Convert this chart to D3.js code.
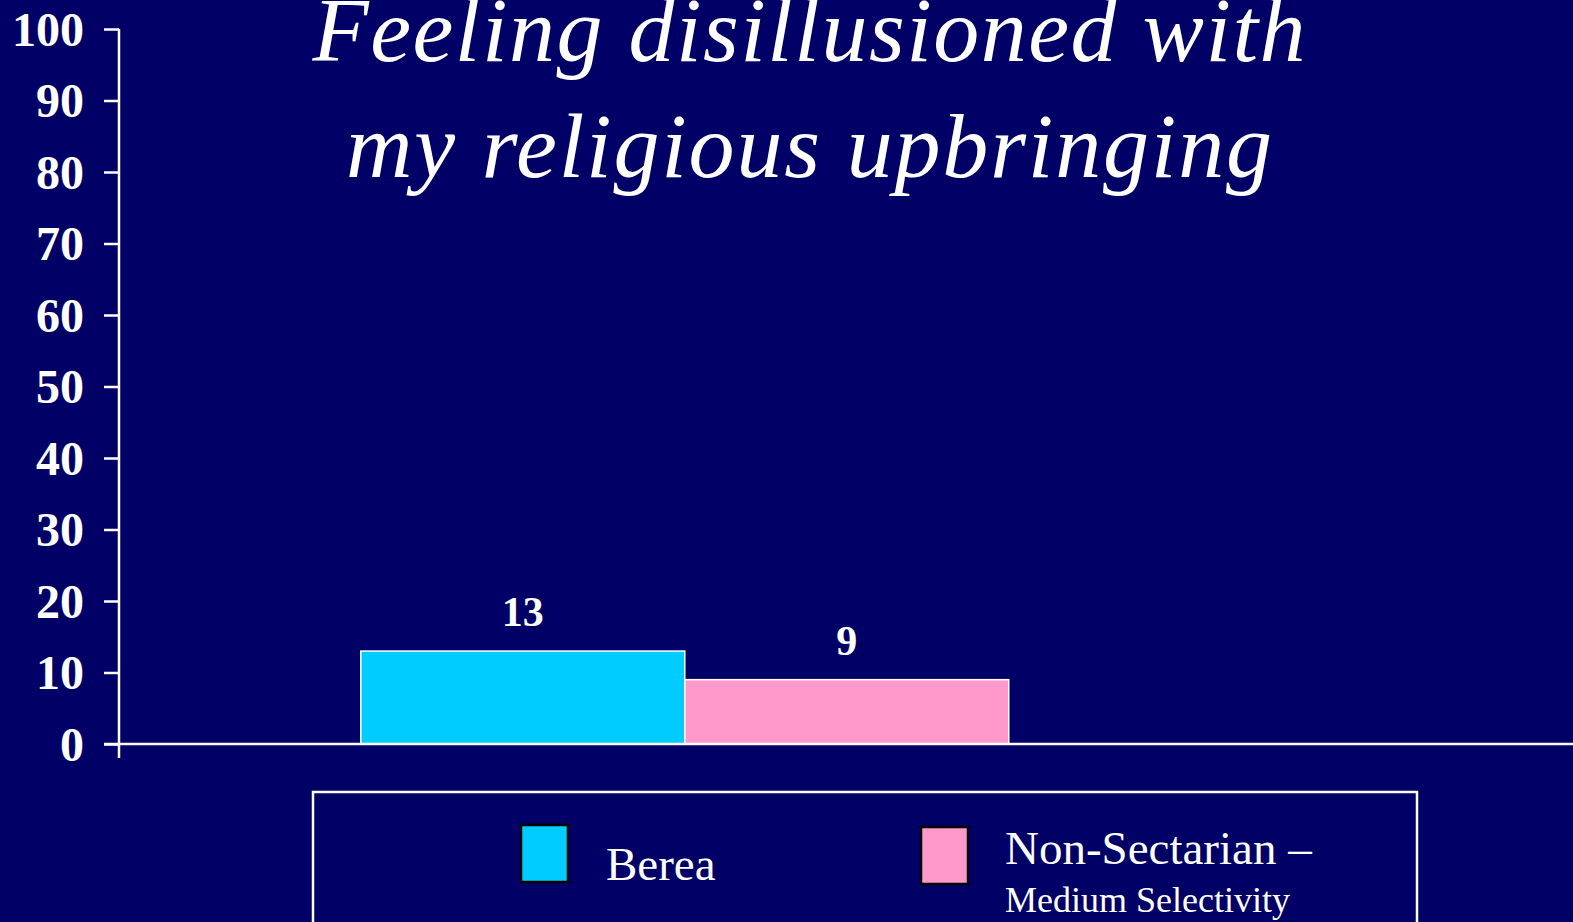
<!DOCTYPE html>
<html><head><meta charset="utf-8">
<script src="https://cdn.jsdelivr.net/npm/d3@7"></script>
<style>
html,body{margin:0;padding:0;background:#000066;overflow:hidden;}
svg{display:block;}
</style></head>
<body>
<svg id="chart" width="1573" height="922"></svg>
<script>
// ---- data ----
const categories = ["Feeling disillusioned with my religious upbringing"];
const seriesNames = ["Berea", "Non-Sectarian \u2013"];
const seriesSub = ["", "Medium Selectivity"];
const seriesValues = [13, 9];
const seriesColors = ["#00CCFF", "#FF99CC"];
const yTicks = [0, 10, 20, 30, 40, 50, 60, 70, 80, 90, 100];
const titleLines = ["Feeling disillusioned with", "my religious upbringing"];

const W = 1573, H = 922;
const svg = d3.select("#chart");
svg.append("rect").attr("width", W).attr("height", H).attr("fill", "#000066");

const plotLeft = 119, plotRight = 1573, plotTop = 29, plotBottom = 744;

const y = d3.scaleLinear().domain([0, 100]).range([plotBottom, plotTop]);
const x0 = d3.scaleBand().domain(categories).range([plotLeft, plotRight])
  .paddingInner(0).paddingOuter(0.622).align(0.30);
const x1 = d3.scaleBand().domain(seriesNames).range([0, x0.bandwidth()]).padding(0);

const serif = "'Liberation Serif','Times New Roman',Times,serif";

// title
const title = svg.append("g");
const titleBaselines = [61, 177];
const titleWidths = [993, 926];
titleLines.forEach((t, i) => {
  title.append("text")
    .attr("x", 809).attr("y", titleBaselines[i])
    .attr("text-anchor", "middle")
    .attr("fill", "#ffffff")
    .attr("font-family", serif)
    .attr("font-style", "italic")
    .attr("font-size", 92)
    .attr("textLength", titleWidths[i])
    .attr("lengthAdjust", "spacing")
    .text(t);
});

// y axis
const yAxis = d3.axisLeft(y).tickValues(yTicks).tickSize(15).tickPadding(20).tickFormat(d3.format("d"));
const gy = svg.append("g").attr("transform", `translate(${plotLeft},0)`).call(yAxis);
gy.select(".domain").remove();
gy.selectAll(".tick line").attr("stroke", "#ffffff").attr("stroke-width", 2.5);
gy.selectAll(".tick text")
  .attr("fill", "#ffffff")
  .attr("font-family", serif)
  .attr("font-weight", "bold")
  .attr("font-size", 48)
  .attr("dy", "0.34em");
// vertical axis line (extends slightly below zero)
svg.append("line")
  .attr("x1", plotLeft).attr("x2", plotLeft)
  .attr("y1", y(100)).attr("y2", y(0) + 14)
  .attr("stroke", "#ffffff").attr("stroke-width", 2.5);

// bars
const groups = svg.append("g").selectAll("g").data(categories).join("g")
  .attr("transform", d => `translate(${x0(d)},0)`);
groups.selectAll("rect").data(seriesNames.map((s, i) => ({s, v: seriesValues[i], c: seriesColors[i]})))
  .join("rect")
  .attr("x", d => x1(d.s))
  .attr("y", d => y(d.v))
  .attr("width", x1.bandwidth())
  .attr("height", d => y(0) - y(d.v))
  .attr("fill", d => d.c)
  .attr("stroke", "#ffffff")
  .attr("stroke-width", 1.5);
groups.selectAll("text.val").data(seriesNames.map((s, i) => ({s, v: seriesValues[i]})))
  .join("text").attr("class", "val")
  .attr("x", d => x1(d.s) + x1.bandwidth() / 2)
  .attr("y", d => y(d.v) - 25)
  .attr("text-anchor", "middle")
  .attr("fill", "#ffffff")
  .attr("font-family", serif)
  .attr("font-weight", "bold")
  .attr("font-size", 42)
  .text(d => d.v);

// x axis line
svg.append("line")
  .attr("x1", plotLeft - 15).attr("x2", W)
  .attr("y1", y(0)).attr("y2", y(0))
  .attr("stroke", "#ffffff").attr("stroke-width", 2.5);

// legend
const legend = svg.append("g");
legend.append("rect")
  .attr("x", 313).attr("y", 792).attr("width", 1104).attr("height", 150)
  .attr("fill", "none").attr("stroke", "#ffffff").attr("stroke-width", 2.5);
const legX = [521, 921], legY = [825, 827];
const textX = [606, 1005];
seriesNames.forEach((s, i) => {
  legend.append("rect")
    .attr("x", legX[i]).attr("y", legY[i]).attr("width", 47).attr("height", 57)
    .attr("fill", seriesColors[i]).attr("stroke", "#000000").attr("stroke-width", 2.5);
  legend.append("text")
    .attr("x", textX[i]).attr("y", seriesSub[i] ? 864 : 880)
    .attr("fill", "#ffffff").attr("font-family", serif).attr("font-size", 47)
    .text(s);
  if (seriesSub[i]) {
    legend.append("text")
      .attr("x", textX[i]).attr("y", 912)
      .attr("fill", "#ffffff").attr("font-family", serif).attr("font-size", 36)
      .text(seriesSub[i]);
  }
});
</script>
</body></html>
